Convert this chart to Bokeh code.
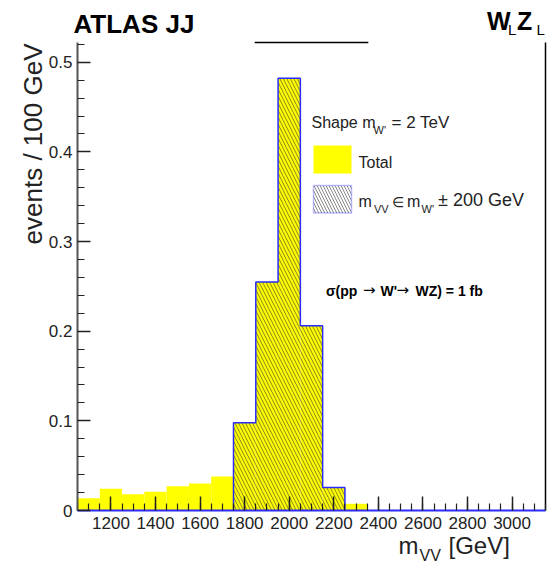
import numpy as np
from bokeh.plotting import figure
from bokeh.models import (Label, FixedTicker, CustomJSTickFormatter, Range1d,
                          BoxAnnotation)
from bokeh.embed import file_html
from bokeh.resources import INLINE

# ---------------- data ----------------
bin_centers = [1100, 1200, 1300, 1400, 1500, 1600, 1700, 1800, 1900, 2000, 2100, 2200, 2300]
bin_width = 100
total_events = [0.0137, 0.0242, 0.0180, 0.0210, 0.0270, 0.0300, 0.0380,
                0.0980, 0.2550, 0.4820, 0.2060, 0.0257, 0.0075]
window_centers = [1800, 1900, 2000, 2100, 2200]
window_events = [0.0980, 0.2550, 0.4820, 0.2060, 0.0257]
top_line_x = [1845, 2355]

x_major = [1200, 1400, 1600, 1800, 2000, 2200, 2400, 2600, 2800, 3000]
x_minor = list(range(1050, 3151, 50))
y_major = [0, 0.1, 0.2, 0.3, 0.4, 0.5]
y_minor = [round(v * 0.02, 2) for v in range(0, 27)]

X0, X1 = 1050, 3150     # axis box, x
Y0, Y1 = 0.0, 0.522     # axis box, y

# ---------------- geometry ----------------
W, H = 551, 563
FL, FR, FT, FB = 77, 545, 42, 510   # axis box in canvas pixels


def X(px):
    return X0 + (px - FL) * (X1 - X0) / (FR - FL)


def Y(py):
    return Y0 + (FB - py) * (Y1 - Y0) / (FB - FT)


p = figure(width=W, height=H, output_backend="svg", toolbar_location=None,
           x_range=Range1d(X(0), X(W)), y_range=Range1d(Y(H), Y(0)),
           min_border=0, min_border_left=0, min_border_right=0,
           min_border_top=0, min_border_bottom=0, title=None)
p.outline_line_color = None
p.xgrid.visible = False
p.ygrid.visible = False
p.background_fill_color = "white"
p.border_fill_color = "white"

BLUE = "#2a2aff"

# total histogram (yellow)
lefts = [c - bin_width / 2 for c in bin_centers]
rights = [c + bin_width / 2 for c in bin_centers]
p.quad(left=lefts, right=rights, bottom=0, top=total_events,
       fill_color="#ffff00", line_color=None)

# window histogram (hatched)
wl = [c - bin_width / 2 for c in window_centers]
wr = [c + bin_width / 2 for c in window_centers]
p.quad(left=wl, right=wr, bottom=0, top=window_events,
       fill_color=None, line_color=None, hatch_pattern="\\",
       hatch_color="#333333", hatch_alpha=0.6, hatch_scale=7, hatch_weight=1)

# outline of window histogram
sx = [wl[0]]
sy = [0]
for l, r, v in zip(wl, wr, window_events):
    sx += [l, r]
    sy += [v, v]
sx.append(wr[-1])
sy.append(0)
p.line(sx, sy, line_color=BLUE, line_width=1.5)

# top stray line and right frame line
p.line(top_line_x, [Y1, Y1], line_color="black", line_width=1.5)
p.line([X1, X1], [Y0, Y1], line_color="black", line_width=1.5)

# ---------------- axes ----------------
xa = p.xaxis[0]
xa.fixed_location = Y0
xa.bounds = (X0, X1)
xa.ticker = FixedTicker(ticks=x_major, minor_ticks=x_minor)
xa.axis_line_color = BLUE
xa.axis_line_width = 2
xa.major_tick_in = 14
xa.major_tick_out = 0
xa.minor_tick_in = 7
xa.minor_tick_out = 0
xa.major_tick_line_color = "#222222"
xa.minor_tick_line_color = "#222222"
xa.major_tick_line_width = 1.5
xa.minor_tick_line_width = 1.2
xa.major_label_text_font = "Liberation Sans"
xa.major_label_text_font_size = "17px"
xa.major_label_text_color = "#222222"
xa.major_label_standoff = 6

ya = p.yaxis[0]
ya.fixed_location = X0
ya.bounds = (Y0, Y1)
ya.ticker = FixedTicker(ticks=y_major, minor_ticks=y_minor)
ya.formatter = CustomJSTickFormatter(code="return tick == 0 ? '0' : tick.toFixed(1);")
ya.axis_line_color = "#555555"
ya.axis_line_width = 2
ya.major_tick_in = 13
ya.major_tick_out = 0
ya.minor_tick_in = 7
ya.minor_tick_out = 0
ya.major_tick_line_color = "#222222"
ya.minor_tick_line_color = "#222222"
ya.major_tick_line_width = 1.5
ya.minor_tick_line_width = 1.2
ya.major_label_text_font = "Liberation Sans"
ya.major_label_text_font_size = "17px"
ya.major_label_text_color = "#222222"
ya.major_label_standoff = 5


# ---------------- texts ----------------
BASE_SHIFT = 0.38   # rendered baseline offset, in em


def txt(px, py, s, size, bold=False, align="left", angle=0.0, color="#222222",
        font="Liberation Sans"):
    sh = BASE_SHIFT * size
    px = px - np.sin(angle) * sh
    py = py - np.cos(angle) * sh
    p.add_layout(Label(x=X(px), y=Y(py), text=s, text_font=font,
                       text_font_size=f"{size}px",
                       text_font_style="bold" if bold else "normal",
                       text_align=align, text_baseline="alphabetic",
                       angle=angle, text_color=color))


txt(73, 33, "ATLAS JJ", 26, bold=True, color="black")
txt(486.5, 30, "W", 25, bold=True, color="black")
txt(507.5, 35, "L", 15, color="black")
txt(516.5, 30, "Z", 25, bold=True, color="black")
txt(536, 35, "L", 15, color="black")

txt(42, 43, "events / 100 GeV", 26, align="right", angle=np.pi / 2)
txt(398, 554, "m", 24)
txt(419, 561, "VV", 16)
txt(448, 554, "[GeV]", 24)

# legend
txt(311, 128.5, "Shape m", 16)
txt(373, 134, "W'", 11)
txt(391, 128.5, "= 2 TeV", 17)
p.add_layout(BoxAnnotation(left=X(313), right=X(351), top=Y(145), bottom=Y(173),
                           fill_color="#ffff00", fill_alpha=1, line_color=None))
txt(358, 168.5, "Total", 16)
p.add_layout(BoxAnnotation(left=X(313), right=X(351), top=Y(185), bottom=Y(212.5),
                           fill_color="white", fill_alpha=1, hatch_pattern="\\",
                           hatch_color="#888888", hatch_scale=6, hatch_weight=1,
                           line_color=BLUE, line_width=1.5))
txt(358, 206.7, "m", 16)
txt(373.5, 213, "VV", 11)
txt(391, 206.7, "∈", 14)
txt(406.5, 206.7, "m", 16)
txt(421, 213, "W'", 11)
txt(437.5, 206.7, "± 200 GeV", 18)

# cross-section
txt(325.5, 295.5, "σ(pp", 14, bold=True, color="black")
txt(362.5, 295.5, "→", 15, color="black", font="DejaVu Sans")
txt(380, 295.5, "W'", 14, bold=True, color="black")
txt(396, 295.5, "→", 15, color="black", font="DejaVu Sans")
txt(415, 295.5, "WZ) = 1 fb", 14, bold=True, color="black")

open("out.html", "w").write(file_html(p, INLINE))
